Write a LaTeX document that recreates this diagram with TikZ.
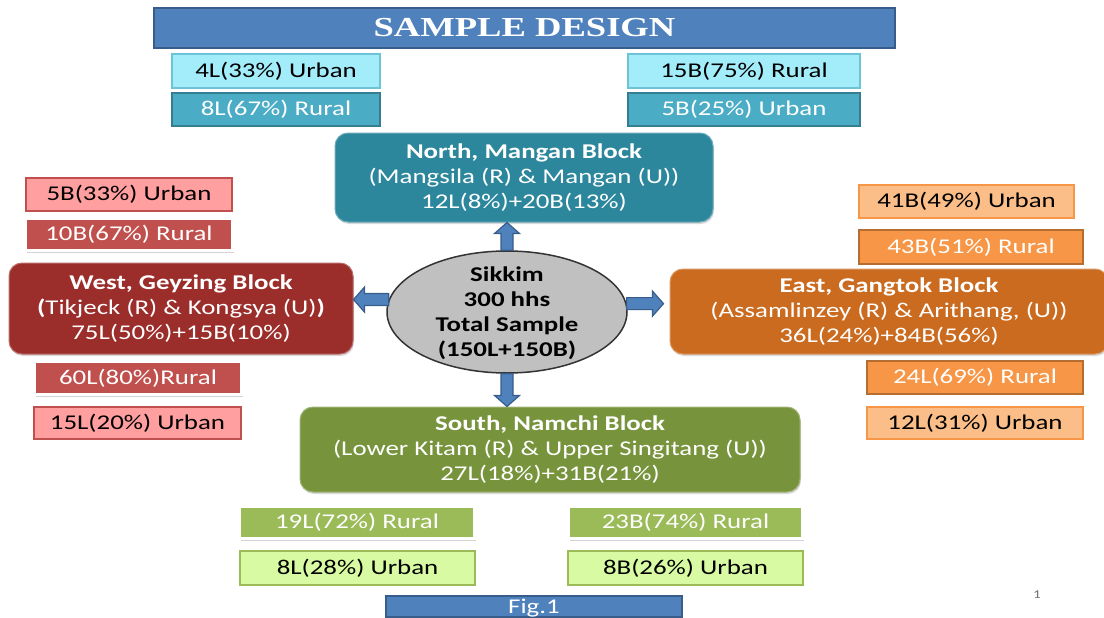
\documentclass[tikz,border=0pt]{standalone}
\usepackage{fontspec}
\setmainfont{Carlito}[FakeStretch=1.28]
\newfontfamily\titlefont{Liberation Serif}[FakeStretch=1.33]
\usetikzlibrary{shapes.geometric,shadows,calc}
\definecolor{tblue}{HTML}{4F81BD}
\definecolor{tblued}{HTML}{385D8A}
\definecolor{lcyan}{HTML}{A3EDFB}
\definecolor{lcyand}{HTML}{6CC3D6}
\definecolor{teal}{HTML}{4BACC6}
\definecolor{teald}{HTML}{357D91}
\definecolor{northc}{HTML}{2C879D}
\definecolor{pink}{HTML}{FF9F9F}
\definecolor{redc}{HTML}{C0504D}
\definecolor{westc}{HTML}{9B2D2A}
\definecolor{ellc}{HTML}{C0C0C0}
\definecolor{eastc}{HTML}{CA6B1F}
\definecolor{lorange}{HTML}{FBBE89}
\definecolor{orange}{HTML}{F79646}
\definecolor{oranged}{HTML}{B66D31}
\definecolor{southc}{HTML}{77933C}
\definecolor{greenc}{HTML}{9BBB59}
\definecolor{lgreen}{HTML}{D8FAA2}
\newcommand\blockarrow[2]{%
  \coordinate (hb) at ($(#2)!11pt!(#1)$);
  \draw[barrow] ($(#1)!6pt!90:(#2)$) -- ($(hb)!6pt!90:(#2)$) -- ($(hb)!12.5pt!90:(#2)$)
    -- (#2) -- ($(hb)!12.5pt!-90:(#2)$) -- ($(hb)!6pt!-90:(#2)$) -- ($(#1)!6pt!-90:(#2)$) -- cycle;}
\begin{document}
\begin{tikzpicture}[x=1pt,y=-1pt,
  base/.style={inner sep=0pt, align=center, font=\fontsize{21}{25}\selectfont},
  lightbox/.style={base, line width=1.2pt},
  darkbox/.style={base, line width=1.5pt, text=white},
  whitebox/.style={base, draw=white, line width=3pt, text=white,
     drop shadow={opacity=0.35, shadow xshift=1pt, shadow yshift=-2pt}},
  block/.style={base, rounded corners=13pt, text=white,
     drop shadow={opacity=0.3, shadow xshift=1pt, shadow yshift=-2pt}},
  barrow/.style={fill=tblue, draw=tblued, line width=1.2pt, line join=miter}]
\useasboundingbox (0,0) rectangle (1104,618);
% title
\node[base, fill=tblue, draw=tblued, line width=2pt, minimum width=741, minimum height=40,
  text=white, font=\titlefont\bfseries\fontsize{27.5}{30}\selectfont] (title) at (524.5,28) {SAMPLE DESIGN};
% north sub-boxes
\node[lightbox, fill=lcyan, draw=lcyand, minimum width=208, minimum height=34] (tl1) at (276,71) {4L(33\%) Urban};
\node[darkbox, fill=teal, draw=teald, minimum width=208, minimum height=33] (tl2) at (276,109.5) {8L(67\%) Rural};
\node[lightbox, fill=lcyan, draw=lcyand, minimum width=232, minimum height=34] (tr1) at (744,71) {15B(75\%) Rural};
\node[darkbox, fill=teal, draw=teald, minimum width=232, minimum height=33] (tr2) at (744,109.5) {5B(25\%) Urban};
% blocks
\node[block, fill=northc, draw=northc!70!white, line width=1pt, minimum width=378, minimum height=89] (north) at (524,177.5)
  {\textbf{North, Mangan Block}\\(Mangsila (R) \& Mangan (U))\\12L(8\%)+20B(13\%)};
\node[block, fill=westc, draw=westc!70!white, line width=1pt, minimum width=344, minimum height=91] (west) at (181,308.5)
  {\textbf{West, Geyzing Block}\\\textbf{(}Tikjeck (R) \& Kongsya (U)\textbf{)}\\75L(50\%)+15B(10\%)};
\node[block, fill=eastc, draw=eastc!70!white, line width=1pt, minimum width=438, minimum height=85] (east) at (889,311.5)
  {\textbf{East, Gangtok Block}\\(Assamlinzey (R) \& Arithang, (U))\hspace*{40pt}\\36L(24\%)+84B(56\%)};
\node[block, fill=southc, draw=southc!70!white, line width=1pt, minimum width=500, minimum height=85] (south) at (550,449.5)
  {\textbf{South, Namchi Block}\\(Lower Kitam (R) \& Upper Singitang (U))\\27L(18\%)+31B(21\%)};
% west sub-boxes
\node[lightbox, fill=pink, draw=redc, minimum width=206, minimum height=33] (wl1) at (129,194.5) {5B(33\%) Urban};
\node[whitebox, fill=redc, minimum width=207, minimum height=32] (wl2) at (129,234.5) {10B(67\%) Rural};
\node[whitebox, fill=redc, minimum width=207, minimum height=33] (wl3) at (138,378) {60L(80\%)Rural};
\node[lightbox, fill=pink, draw=redc, minimum width=207, minimum height=32] (wl4) at (137.5,423) {15L(20\%) Urban};
% east sub-boxes
\node[lightbox, fill=lorange, draw=orange, minimum width=215, minimum height=33] (er1) at (966.5,201.5) {41B(49\%) Urban};
\node[darkbox, fill=orange, draw=oranged, minimum width=224, minimum height=34] (er2) at (971,247) {43B(51\%) Rural};
\node[darkbox, fill=orange, draw=oranged, minimum width=216, minimum height=33] (er3) at (975,377.5) {24L(69\%) Rural};
\node[lightbox, fill=lorange, draw=orange, minimum width=216, minimum height=32] (er4) at (975,423) {12L(31\%) Urban};
% south sub-boxes
\node[whitebox, fill=greenc, minimum width=235, minimum height=32] (sl1) at (357,522.5) {19L(72\%) Rural};
\node[whitebox, fill=greenc, minimum width=234, minimum height=32] (sr1) at (685.5,522.5) {23B(74\%) Rural};
\node[lightbox, fill=lgreen, draw=greenc, minimum width=235, minimum height=34] (sl2) at (357.5,568) {8L(28\%) Urban};
\node[lightbox, fill=lgreen, draw=greenc, minimum width=235, minimum height=34] (sr2) at (685.5,568) {8B(26\%) Urban};
% centre ellipse
\node[ellipse, fill=ellc, draw=black!80, line width=1.5pt, minimum width=240, minimum height=122, inner sep=0pt] (ell) at (507,312) {};
\node[base, font=\bfseries\fontsize{21}{25}\selectfont] (ellt) at (507,313) {Sikkim\\300 hhs\\Total Sample\\(150L+150B)};
% arrows
\blockarrow{ell.north}{ell.north |- north.south}
\blockarrow{ell.south}{ell.south |- south.north}
\blockarrow{ell.174}{ell.174 -| west.east}
\coordinate (etip) at ($(ell.4 -| east.west)+(-6,0)$);
\blockarrow{ell.4}{etip}
% footer
\node[base, fill=tblue, draw=tblued, line width=1.5pt, minimum width=296, minimum height=21, text=white,
  text height=13pt, text depth=0pt] (fig) at (534,606.5) {Fig.1};
\node[base, font=\fontsize{12}{14}\selectfont, text=black!55] (pnum) at (1037,595) {1};
\end{tikzpicture}
\end{document}
